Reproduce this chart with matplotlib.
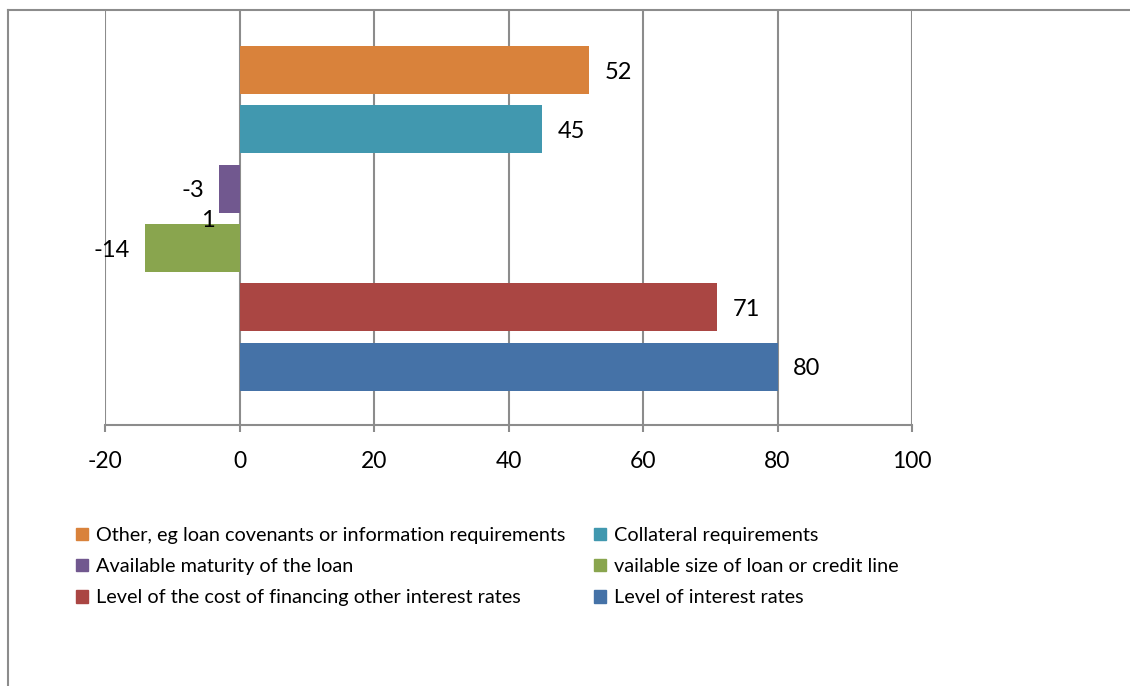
import matplotlib.pyplot as plt
from matplotlib.lines import Line2D
from matplotlib.patches import Patch

# data, bottom bar first
series = ["Level of interest rates",
          "Level of the cost of financing other interest rates",
          "vailable size of loan or credit line",
          "Available maturity of the loan",
          "Collateral requirements",
          "Other, eg loan covenants or information requirements"]
values = [80, 71, -14, -3, 45, 52]
colors = ["#4572A7", "#AA4643", "#89A54E", "#71588F", "#4198AF", "#D9823B"]
xticks = [-20, 0, 20, 40, 60, 80, 100]
stray_label = "1"

plt.rcParams['font.family'] = ['Lato', 'DejaVu Sans']

fig = plt.figure(figsize=(11.30, 6.86), dpi=100)
ax = fig.add_axes([105/1130, 1 - 425/686, (912-105)/1130, (425-10)/686])

pos = list(range(len(values)))
ax.barh(pos, values, height=0.81, color=colors, zorder=3)

# data labels
for p, v in zip(pos, values):
    if v >= 0:
        ax.annotate(str(v), (v, p), xytext=(11, -1.5), textcoords="offset points",
                    ha="left", va="center", fontsize=17)
    else:
        ax.annotate(str(v), (v, p), xytext=(-11, -1.5), textcoords="offset points",
                    ha="right", va="center", fontsize=17)
# stray label between the two negative bars
ax.annotate(stray_label, (-4.7, 2.5), xytext=(0, -1.5), textcoords="offset points",
            ha="center", va="center", fontsize=17)

ax.set_xlim(-20, 100)
ax.set_ylim(-0.98, 6.01)
ax.set_xticks(xticks)
ax.set_xticklabels([str(t) for t in xticks], fontsize=16.5)
ax.set_yticks([])
ax.grid(axis="x", color="#8c8c8c", linewidth=1.5, zorder=1)
for s in ["left", "right", "top"]:
    ax.spines[s].set_visible(False)
ax.spines["bottom"].set_color("#8c8c8c")
ax.spines["bottom"].set_linewidth(1.5)
ax.tick_params(axis="x", length=5, width=1.5, color="#8c8c8c", pad=14)

# chart border (left and top)
fig.add_artist(Line2D([8/1130, 8/1130], [0, 1 - 10/686], color="#8c8c8c", lw=1.5))
fig.add_artist(Line2D([8/1130, 1], [1 - 10/686, 1 - 10/686], color="#8c8c8c", lw=1.5))

# legend, filled column by column
order = [5, 3, 1, 4, 2, 0]
handles = [Patch(color=colors[i], label=series[i]) for i in order]
fig.legend(handles=handles, ncol=2, loc="upper left",
           bbox_to_anchor=(58/1130, 1 - 509/686), frameon=False,
           fontsize=14.3, handlelength=0.6, handleheight=0.6,
           handletextpad=0.4, columnspacing=1.45, labelspacing=0.72)

fig.savefig("out.png", dpi=100)
